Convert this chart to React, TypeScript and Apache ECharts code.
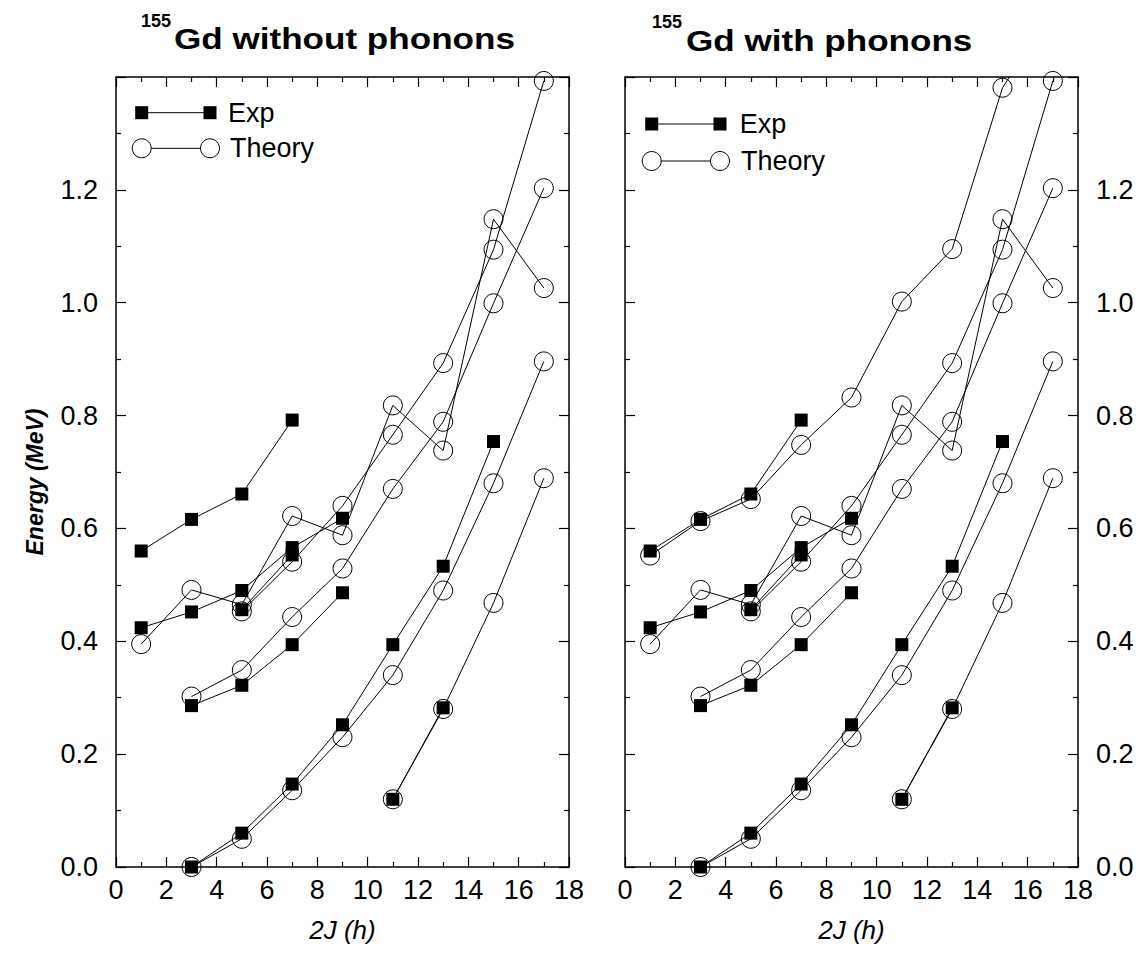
import React, { useEffect, useRef } from "react";
import * as echarts from "echarts";

// ---------- data (2J in units of h, energies in MeV) ----------
const xTickValues = [0, 2, 4, 6, 8, 10, 12, 14, 16, 18];
const yTickValues = [0.0, 0.2, 0.4, 0.6, 0.8, 1.0, 1.2];

// Experimental bands
const expGround2J = [3, 5, 7, 9, 11, 13, 15];
const expGroundE = [0.0, 0.06, 0.147, 0.252, 0.394, 0.533, 0.754];
const expH112J = [11, 13];
const expH112E = [0.12, 0.282];
const expPos2J = [3, 5, 7, 9];
const expPosE = [0.286, 0.322, 0.394, 0.486];
const expTop2J = [1, 3, 5, 7];
const expTopE = [0.56, 0.616, 0.661, 0.792];
const expMid2J = [1, 3, 5, 7, 9];
const expMidE = [0.424, 0.452, 0.49, 0.566, 0.618];
const expSide2J = [5, 7];
const expSideE = [0.456, 0.553];

// Theoretical bands
const thGround2J = [3, 5, 7, 9, 11, 13, 15, 17];
const thGroundE = [0.0, 0.05, 0.136, 0.23, 0.34, 0.49, 0.68, 0.896];
const thH112J = [11, 13, 15, 17];
const thH112E = [0.12, 0.28, 0.468, 0.689];
const thPos2J = [3, 5, 7, 9, 11, 13, 15, 17];
const thPosE = [0.302, 0.349, 0.443, 0.529, 0.67, 0.789, 0.999, 1.203];
const thSplit2J = [1, 3, 5, 7, 9, 11, 13, 15, 17];
const thSplitE = [0.395, 0.491, 0.465, 0.622, 0.588, 0.818, 0.738, 1.148, 1.026];
const thUpper2J = [5, 7, 9, 11, 13, 15, 17];
const thUpperE = [0.453, 0.541, 0.64, 0.766, 0.893, 1.094, 1.393];
// only in the "with phonons" calculation
const thPhonon2J = [1, 3, 5, 7, 9, 11, 13, 15, 17];
const thPhononE = [0.552, 0.613, 0.652, 0.748, 0.832, 1.002, 1.095, 1.381, 1.52];

const panelTitles = ["Gd without phonons", "Gd with phonons"];
const isotopeLabel = "155";
const xAxisTitle = "2J (h)";
const yAxisTitle = "Energy (MeV)";
const legendLabels = ["Exp", "Theory"];

// ---------- styling ----------
const FONT = '"Liberation Sans", Arial, Helvetica, sans-serif';
const BLACK = "#000";

const pairs = (j: number[], e: number[]) => j.map((v, i) => [v, e[i]]);

const expBands = [
  [expGround2J, expGroundE],
  [expH112J, expH112E],
  [expPos2J, expPosE],
  [expTop2J, expTopE],
  [expMid2J, expMidE],
  [expSide2J, expSideE],
];
const thBandsCommon = [
  [thGround2J, thGroundE],
  [thH112J, thH112E],
  [thPos2J, thPosE],
  [thSplit2J, thSplitE],
  [thUpper2J, thUpperE],
];

function buildOption() {
  const grids = [
    { left: 116, top: 77, width: 453, height: 790 },
    { left: 625, top: 77, width: 453, height: 790 },
  ];

  const axisLine = { show: true, onZero: false, lineStyle: { color: BLACK, width: 1.5 } };
  const axisTick = { show: true, inside: true, length: 10, lineStyle: { color: BLACK, width: 1.2 } };
  const minorTick = { show: true, splitNumber: 2, length: 5, lineStyle: { color: BLACK, width: 1.2 } };

  const xAxes: any[] = [];
  const yAxes: any[] = [];
  [0, 1].forEach((g) => {
    const xBase = {
      type: "value",
      gridIndex: g,
      min: xTickValues[0],
      max: xTickValues[xTickValues.length - 1],
      interval: 2,
      axisLine,
      axisTick,
      minorTick,
      splitLine: { show: false },
      minorSplitLine: { show: false },
    };
    xAxes.push({
      ...xBase,
      position: "bottom",
      axisLabel: { show: true, color: BLACK, fontSize: 27, fontFamily: FONT, margin: 9 },
      name: xAxisTitle,
      nameLocation: "middle",
      nameGap: 50,
      nameTextStyle: { color: BLACK, fontSize: 26, fontStyle: "italic", fontFamily: FONT },
    });
    xAxes.push({ ...xBase, position: "top", axisLabel: { show: false } });

    const yBase = {
      type: "value",
      gridIndex: g,
      min: 0,
      max: 1.4,
      interval: 0.2,
      axisLine,
      axisTick,
      minorTick,
      splitLine: { show: false },
      minorSplitLine: { show: false },
    };
    const labelled = {
      show: true,
      color: BLACK,
      fontSize: 27,
      fontFamily: FONT,
      margin: 18,
      formatter: (v: number) => (yTickValues.some((t) => Math.abs(t - v) < 1e-6) ? v.toFixed(1) : ""),
    };
    yAxes.push({ ...yBase, position: "left", axisLabel: g === 0 ? labelled : { show: false } });
    yAxes.push({ ...yBase, position: "right", axisLabel: g === 1 ? labelled : { show: false } });
  });

  const series: any[] = [];
  const addTheory = (g: number, j: number[], e: number[]) =>
    series.push({
      type: "line",
      xAxisIndex: g * 2,
      yAxisIndex: g * 2,
      data: pairs(j, e),
      symbol: "circle",
      symbolSize: 19,
      showAllSymbol: true,
      clip: true,
      z: 2,
      lineStyle: { color: BLACK, width: 1 },
      itemStyle: { color: "rgba(0,0,0,0)", borderColor: BLACK, borderWidth: 1 },
      emphasis: { disabled: true },
      silent: true,
    });
  const addExp = (g: number, j: number[], e: number[]) =>
    series.push({
      type: "line",
      xAxisIndex: g * 2,
      yAxisIndex: g * 2,
      data: pairs(j, e),
      symbol: "rect",
      symbolSize: 13,
      showAllSymbol: true,
      clip: true,
      z: 3,
      lineStyle: { color: BLACK, width: 1 },
      itemStyle: { color: BLACK },
      emphasis: { disabled: true },
      silent: true,
    });

  [0, 1].forEach((g) => {
    thBandsCommon.forEach(([j, e]) => addTheory(g, j, e));
    if (g === 1) addTheory(g, thPhonon2J, thPhononE);
    expBands.forEach(([j, e]) => addExp(g, j, e));
  });

  // legends, titles, y-axis title
  const legend = (x1: number, x2: number, yExp: number, yTh: number, txExp: number, txTh: number) => [
    { type: "line", shape: { x1, y1: yExp, x2, y2: yExp }, style: { stroke: BLACK, lineWidth: 1 } },
    { type: "rect", shape: { x: x1 - 6.5, y: yExp - 6.5, width: 13, height: 13 }, style: { fill: BLACK } },
    { type: "rect", shape: { x: x2 - 6.5, y: yExp - 6.5, width: 13, height: 13 }, style: { fill: BLACK } },
    {
      type: "text",
      x: txExp,
      y: yExp,
      style: { text: legendLabels[0], fill: BLACK, fontSize: 27, fontFamily: FONT, align: "left", verticalAlign: "middle" },
    },
    { type: "line", shape: { x1: x1 + 9.5, y1: yTh, x2: x2 - 9.5, y2: yTh }, style: { stroke: BLACK, lineWidth: 1 } },
    { type: "circle", shape: { cx: x1, cy: yTh, r: 9.5 }, style: { fill: "none", stroke: BLACK, lineWidth: 1 } },
    { type: "circle", shape: { cx: x2, cy: yTh, r: 9.5 }, style: { fill: "none", stroke: BLACK, lineWidth: 1 } },
    {
      type: "text",
      x: txTh,
      y: yTh,
      style: { text: legendLabels[1], fill: BLACK, fontSize: 27, fontFamily: FONT, align: "left", verticalAlign: "middle" },
    },
  ];

  const title = (xSup: number, xMain: number, ySup: number, yMain: number, text: string) => [
    {
      type: "text",
      x: xSup,
      y: ySup,
      style: { text: isotopeLabel, fill: BLACK, fontSize: 18, fontWeight: "bold", fontFamily: FONT, align: "left", verticalAlign: "middle" },
    },
    {
      type: "text",
      x: xMain,
      y: yMain,
      scaleX: 1.17,
      style: { text, fill: BLACK, fontSize: 30, fontWeight: "bold", fontFamily: FONT, align: "left", verticalAlign: "middle" },
    },
  ];

  const graphic = [
    ...title(141, 174, 20.5, 38.8, panelTitles[0]),
    ...title(652, 686, 21.5, 40, panelTitles[1]),
    ...legend(141.7, 210, 112.7, 148.3, 228, 230),
    ...legend(651.7, 720, 124, 161, 739.7, 741),
    {
      type: "text",
      x: 35,
      y: 482,
      rotation: Math.PI / 2,
      style: {
        text: yAxisTitle,
        fill: BLACK,
        fontSize: 23,
        fontWeight: "bold",
        fontStyle: "italic",
        fontFamily: FONT,
        align: "center",
        verticalAlign: "middle",
      },
    },
  ];

  return {
    animation: false,
    backgroundColor: "#fff",
    grid: grids,
    xAxis: xAxes,
    yAxis: yAxes,
    series,
    graphic,
  };
}

export default function App() {
  const ref = useRef<HTMLDivElement>(null);
  useEffect(() => {
    if (!ref.current) return;
    const chart = echarts.init(ref.current, undefined, { renderer: "svg" });
    chart.setOption(buildOption() as any);
    return () => chart.dispose();
  }, []);
  return (
    <div
      ref={ref}
      style={{ position: "absolute", left: 0, top: 0, width: 1146, height: 953, background: "#fff" }}
    />
  );
}
